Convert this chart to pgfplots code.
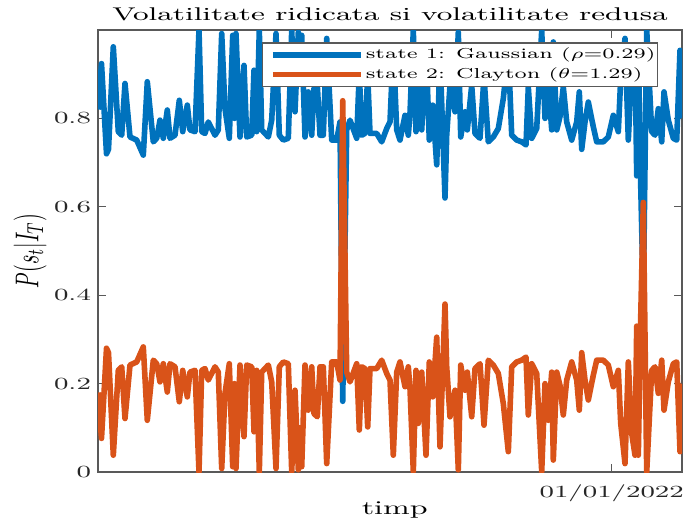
\RequirePackage{fix-cm}
\documentclass[border=0pt]{standalone}
\usepackage{graphicx}
\usepackage{pgfplots}
\pgfplotsset{compat=1.18}
\usepackage{pgfplotstable}
\definecolor{mblue}{rgb}{0,0.447,0.741}
\definecolor{morange}{rgb}{0.85,0.325,0.098}
\newcommand{\hs}[1]{\scalebox{1.65}[1]{#1}}
\newcommand{\hl}[1]{\scalebox{1.49}[1]{#1}}
\pgfplotstableread{
x s1 s2
0 0.820 0.180
3.5 0.924 0.076
8.5 0.720 0.280
10.5 0.730 0.270
15.3 0.962 0.038
20.3 0.770 0.230
23.7 0.762 0.238
27.0 0.879 0.121
32.0 0.758 0.242
38.7 0.751 0.249
45.3 0.717 0.283
49.3 0.883 0.117
55.3 0.747 0.253
58.7 0.755 0.245
62.0 0.796 0.204
65.3 0.755 0.245
69.3 0.819 0.181
72.0 0.755 0.245
77.0 0.762 0.238
81.3 0.841 0.159
84.7 0.770 0.230
89.3 0.830 0.170
92.0 0.774 0.226
97.0 0.770 0.230
101.0 1.000 0.000
103.7 0.770 0.230
107.0 0.766 0.234
110.3 0.792 0.208
117.0 0.762 0.238
120.3 0.774 0.226
123.7 0.992 0.008
127.0 0.822 0.178
131.3 0.755 0.245
134.7 0.988 0.012
136.5 0.800 0.200
138.0 0.992 0.008
142.0 0.758 0.242
146.0 0.920 0.080
148.7 0.758 0.242
153.7 0.762 0.238
156.0 0.909 0.091
158.7 0.770 0.230
161.3 1.000 0.000
163.7 0.774 0.226
170.3 0.758 0.242
173.7 0.796 0.204
178.0 0.992 0.008
181.3 0.762 0.238
185.3 0.751 0.249
190.3 0.755 0.245
193.7 0.999 0.001
197.0 0.815 0.185
200.3 0.995 0.005
202.0 0.900 0.100
203.7 0.988 0.012
207.0 0.758 0.242
210.3 0.860 0.140
213.7 0.762 0.238
216.0 0.868 0.132
219.3 0.875 0.125
222.0 0.762 0.238
225.3 0.762 0.238
228.7 0.981 0.019
233.7 0.751 0.249
238.7 0.751 0.249
242.0 0.792 0.208
244.7 0.160 0.840
248.7 0.774 0.226
252.0 0.796 0.204
258.7 0.755 0.245
261.3 0.905 0.095
263.7 0.762 0.238
267.0 0.766 0.234
269.7 0.898 0.102
272.0 0.766 0.234
278.7 0.766 0.234
283.7 0.747 0.253
288.7 0.777 0.223
292.0 0.792 0.208
295.3 0.962 0.038
298.7 0.774 0.226
302.0 0.751 0.249
307.0 0.807 0.193
310.3 0.762 0.238
312.0 0.811 0.189
315.3 0.999 0.001
318.0 0.770 0.230
320.3 0.890 0.110
323.7 0.774 0.226
328.0 0.962 0.038
331.3 0.751 0.249
334.7 0.830 0.170
338.7 0.695 0.305
342.0 0.943 0.057
347.0 0.620 0.380
348.7 0.762 0.238
352.0 0.875 0.125
357.0 0.815 0.185
360.3 0.995 0.005
362.7 0.758 0.242
367.0 0.815 0.185
369.3 0.774 0.226
373.7 0.875 0.125
377.0 0.766 0.234
382.0 0.755 0.245
386.0 0.894 0.106
390.3 0.747 0.253
395.3 0.758 0.242
400.3 0.777 0.223
405.3 0.845 0.155
410.3 0.954 0.046
413.7 0.762 0.238
418.7 0.751 0.249
423.7 0.747 0.253
428.0 0.740 0.260
430.3 0.871 0.129
433.7 0.755 0.245
438.7 0.777 0.223
443.7 0.999 0.001
447.0 0.800 0.200
450.3 0.883 0.117
453.7 0.774 0.226
455.3 0.973 0.027
458.7 0.774 0.226
462.0 0.804 0.196
465.3 0.871 0.129
468.7 0.792 0.208
473.7 0.751 0.249
478.7 0.792 0.208
481.3 0.860 0.140
483.7 0.730 0.270
487.0 0.792 0.208
490.3 0.837 0.163
495.3 0.781 0.219
498.7 0.747 0.253
505.3 0.747 0.253
510.3 0.758 0.242
515.3 0.807 0.193
520.3 0.770 0.230
522.7 0.890 0.110
527.0 0.981 0.019
530.3 0.751 0.249
533.7 0.913 0.087
537.0 0.962 0.038
538.7 0.670 0.330
540.3 0.962 0.038
542.7 0.650 0.350
545.3 0.390 0.610
548.7 1.000 0.000
553.7 0.770 0.230
557.0 0.762 0.238
560.3 0.822 0.178
563.7 0.747 0.253
566.0 0.860 0.140
570.3 0.796 0.204
575.3 0.755 0.245
578.7 0.751 0.249
582.0 0.954 0.046
584.0 0.800 0.200
}\datatable
\begin{document}
\begin{tikzpicture}
\begin{axis}[name=ax, scale only axis, width=292pt, height=221pt,
  xmin=0, xmax=584, ymin=0, ymax=1,
  ytick={0,0.2,0.4,0.6,0.8}, yticklabels={\hs{0},\hs{0.2},\hs{0.4},\hs{0.6},\hs{0.8}},
  xtick={513.7}, xticklabels={\hs{01/01/2022}},
  tick align=inside, major tick length=4pt,
  axis line style={black!65, line width=0.6pt},
  every tick/.style={black!65, line width=0.6pt},
  tick label style={font=\fontsize{8.5}{10}\selectfont, text=black!85},
  xticklabel style={anchor=base, yshift=-12.5pt, inner sep=0pt},
  title={\hs{Volatilitate ridicata si volatilitate redusa}},
  title style={font=\fontsize{9.2}{11}\selectfont, at={(axis description cs:0.5,1)}, anchor=base, yshift=-1pt},
  xlabel={\hs{timp}},
  xlabel style={font=\fontsize{9.7}{11}\selectfont, at={(axis description cs:0.508,-0.095)}, anchor=base},
  ylabel={\scalebox{1}[1.65]{$P(s_t|I_T)$}},
  ylabel style={font=\fontsize{10}{12}\selectfont, at={(axis description cs:-0.1164,0.5)}, anchor=center},
  legend cell align=left,
  legend style={at={(axis description cs:0.959,0.972)}, anchor=north east, draw=black!65, line width=0.6pt,
    font=\fontsize{7.2}{8.6}\selectfont, inner xsep=0pt, inner ysep=1pt, row sep=0pt,
    nodes={inner ysep=1.5pt, inner xsep=1pt}},
  legend image code/.code={\path (0pt,0pt); \draw[#1] (4pt,0pt) -- (48pt,0pt);},
]
\addplot[mblue, line width=2.8pt, line join=round] table[x=x,y=s1]{\datatable};
\addlegendentry{\hl{state 1: Gaussian ($\rho$=0.29)}}
\addplot[morange, line width=2.8pt, line join=round] table[x=x,y=s2]{\datatable};
\addlegendentry{\hl{state 2: Clayton ($\theta$=1.29)}}
\end{axis}
\pgfresetboundingbox
\path[use as bounding box] (ax.south west) ++(-49pt,-24.5pt) rectangle ++(341.5pt,260.5pt);
\end{tikzpicture}
\end{document}
